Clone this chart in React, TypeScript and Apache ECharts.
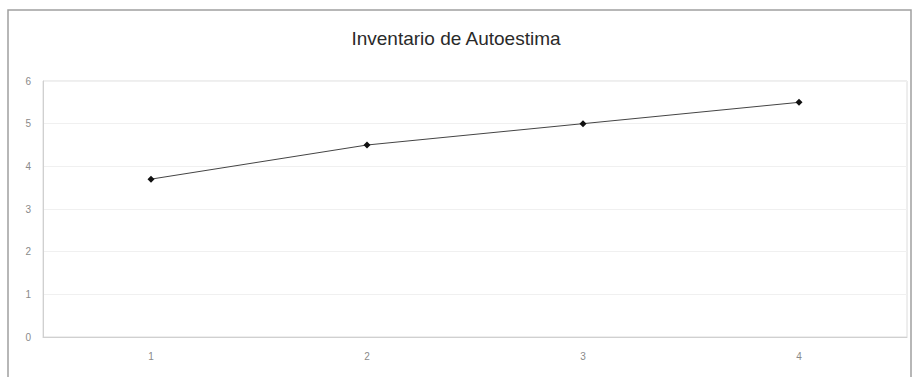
import React, { useEffect, useRef } from "react";
import * as echarts from "echarts";

const title = "Inventario de Autoestima";
const categories = ["1", "2", "3", "4"];
const values = [3.7, 4.5, 5.0, 5.5];
const yTicks = { min: 0, max: 6, interval: 1 };

export default function App() {
  const ref = useRef<HTMLDivElement>(null);
  useEffect(() => {
    const chart = echarts.init(ref.current!, null, { renderer: "svg" });
    chart.setOption({
      animation: false,
      backgroundColor: "#ffffff",
      title: {
        text: title,
        left: "center",
        top: 24,
        textStyle: { fontFamily: "Liberation Sans, Arial", fontSize: 19, fontWeight: "normal", color: "#2a2a2a" },
      },
      graphic: [
        {
          type: "rect",
          shape: { x: 8, y: 10, width: 903, height: 380 },
          style: { fill: "none", stroke: "#a0a0a0", lineWidth: 1.5 },
          silent: true,
        },
      ],
      grid: {
        left: 43,
        right: 5,
        top: 81,
        bottom: 40,
        show: true,
        borderColor: "#dcdcdc",
        borderWidth: 1,
        backgroundColor: "#ffffff",
      },
      xAxis: {
        type: "category",
        data: categories,
        boundaryGap: true,
        axisLine: { show: true, lineStyle: { color: "#d0d0d0" } },
        axisTick: { show: false },
        axisLabel: { color: "#8a8a8a", fontSize: 10, fontFamily: "Liberation Sans, Arial", margin: 14 },
        splitLine: { show: false },
      },
      yAxis: {
        type: "value",
        min: yTicks.min,
        max: yTicks.max,
        interval: yTicks.interval,
        axisLine: { show: true, lineStyle: { color: "#d0d0d0" } },
        axisTick: { show: false },
        axisLabel: { color: "#8a8a8a", fontSize: 10, fontFamily: "Liberation Sans, Arial", margin: 12 },
        splitLine: { show: true, lineStyle: { color: "#f0f0f0" } },
      },
      series: [
        {
          type: "line",
          data: values,
          symbol: "diamond",
          symbolSize: 7,
          lineStyle: { color: "#444", width: 1 },
          itemStyle: { color: "#111" },
        },
      ],
    });
    return () => chart.dispose();
  }, []);
  return (
    <div
      ref={ref}
      style={{ position: "absolute", left: 0, top: 0, width: 912, height: 377 }}
    />
  );
}
